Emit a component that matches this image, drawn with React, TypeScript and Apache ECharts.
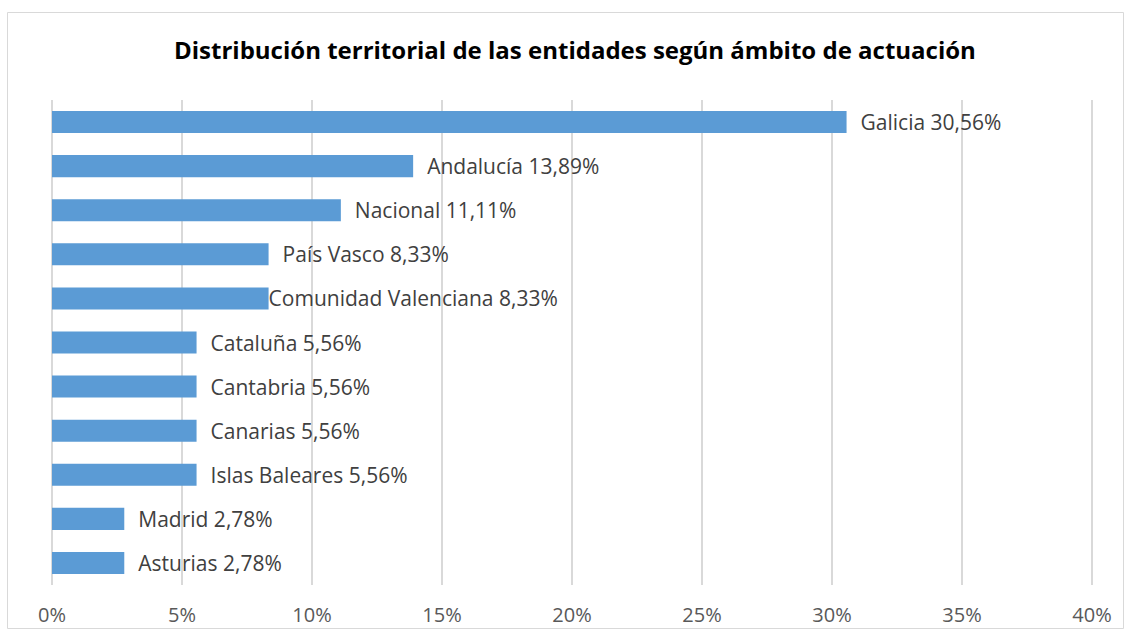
import React, { useEffect, useRef } from "react";
import * as echarts from "echarts";

const categories = [
  "Galicia",
  "Andalucía",
  "Nacional",
  "País Vasco",
  "Comunidad Valenciana",
  "Cataluña",
  "Cantabria",
  "Canarias",
  "Islas Baleares",
  "Madrid",
  "Asturias",
];
const values = [30.56, 13.89, 11.11, 8.33, 8.33, 5.56, 5.56, 5.56, 5.56, 2.78, 2.78];
const xTicks = [0, 5, 10, 15, 20, 25, 30, 35, 40];

const FONT = "'Open Sans', Lato, sans-serif";

export default function App() {
  const ref = useRef<HTMLDivElement>(null);
  useEffect(() => {
    if (!ref.current) return;
    const chart = echarts.init(ref.current, null, { renderer: "svg" });
    chart.setOption({
      animation: false,
      backgroundColor: "#ffffff",
      title: {
        text: "Distribución territorial de las entidades según ámbito de actuación",
        left: 169,
        top: 32,
        textStyle: { fontFamily: FONT, fontSize: 24, fontWeight: "bold", color: "#000000" },
      },
      graphic: [
        {
          type: "rect",
          shape: { x: 7.5, y: 12.5, width: 1116, height: 616 },
          style: { fill: "none", stroke: "#d9d9d9", lineWidth: 1 },
          silent: true,
        },
      ],
      grid: { left: 52, right: 39, top: 100, height: 485, containLabel: false },
      xAxis: {
        type: "value",
        min: xTicks[0],
        max: xTicks[xTicks.length - 1],
        interval: 5,
        axisLine: { show: false },
        axisTick: { show: false },
        splitLine: { show: true, lineStyle: { color: "#d9d9d9", width: 2 } },
        axisLabel: {
          formatter: (v: number) => `${v}%`,
          fontFamily: FONT,
          fontSize: 20,
          color: "#595959",
          margin: 19,
        },
      },
      yAxis: {
        type: "category",
        data: categories,
        inverse: true,
        axisLine: { show: false },
        axisTick: { show: false },
        axisLabel: { show: false },
        splitLine: { show: false },
      },
      series: [
        {
          type: "bar",
          data: values.map((v, i) =>
            categories[i] === "Comunidad Valenciana" ? { value: v, label: { distance: 0 } } : v
          ),
          barWidth: "50%",
          itemStyle: { color: "#5b9bd5" },
          label: {
            show: true,
            position: "right",
            distance: 14,
            fontFamily: FONT,
            fontSize: 21,
            color: "#404040",
            formatter: (p: any) => `${p.name} ${Number(p.value).toFixed(2).replace(".", ",")}%`,
          },
        },
      ],
    });
    return () => chart.dispose();
  }, []);
  return (
    <div
      ref={ref}
      style={{ position: "fixed", left: 0, top: 0, width: 1131, height: 638 }}
    />
  );
}
